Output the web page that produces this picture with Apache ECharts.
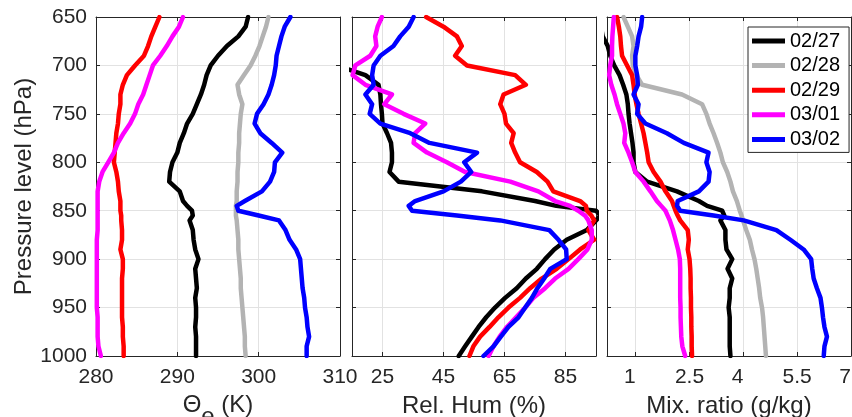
<!DOCTYPE html>
<html>
<head>
<meta charset="utf-8">
<script src="https://cdn.jsdelivr.net/npm/echarts@6/dist/echarts.min.js"></script>
<style>
  html, body { margin: 0; padding: 0; background: #fff; }
  #main { width: 852px; height: 417px; }
</style>
</head>
<body>
<div id="main"></div>
<script>
// pressure levels (hPa), shared by every profile
const levels = [650, 660, 670, 680, 690, 700, 710, 720, 730, 740, 750, 760, 770, 780, 790, 800, 810, 820, 830, 840,
  845, 850, 855, 860, 870, 880, 890, 900, 910, 920, 930, 940, 950, 960, 970, 980, 990, 1000];

const dates = ['02/27', '02/28', '02/29', '03/01', '03/02'];
const colors = ['#000000', '#b3b3b3', '#ff0000', '#ff00ff', '#0000ff'];

// equivalent potential temperature (K)
const thetaE0227 = [298.7, 298.4, 297.5, 296.1, 295.0, 294.1, 293.6, 293.3, 292.9, 292.4, 291.9, 291.2, 290.8, 290.3, 290.0, 289.4, 289.1, 289.0, 290.3, 290.7,
  291.2, 291.8, 291.9, 291.5, 291.9, 292.0, 292.2, 292.6, 292.2, 292.3, 292.4, 292.2, 292.3, 292.3, 292.2, 292.3, 292.3, 292.3];
const thetaE0228 = [301.2, 300.9, 300.5, 300.1, 299.6, 299.0, 298.2, 297.4, 297.6, 298.0, 297.8, 297.7, 297.6, 297.6, 297.5, 297.5, 297.4, 297.4, 297.3, 297.3,
  297.2, 297.2, 297.2, 297.3, 297.4, 297.5, 297.5, 297.6, 297.7, 297.8, 297.8, 297.9, 298.0, 298.1, 298.2, 298.3, 298.3, 298.4];
const thetaE0229 = [287.8, 287.3, 286.8, 286.4, 285.9, 284.8, 283.8, 283.3, 283.0, 283.0, 282.8, 282.7, 282.5, 282.4, 282.3, 282.2, 282.5, 282.7, 282.8, 283.0,
  283.0, 283.0, 283.1, 283.1, 283.2, 283.2, 283.0, 283.3, 283.3, 283.2, 283.2, 283.2, 283.2, 283.2, 283.3, 283.3, 283.4, 283.4];
const thetaE0301 = [290.7, 290.2, 289.4, 288.7, 287.9, 287.0, 286.6, 286.2, 285.8, 285.2, 284.8, 284.2, 283.4, 282.7, 282.2, 281.5, 280.8, 280.4, 280.2, 280.2,
  280.2, 280.2, 280.2, 280.2, 280.2, 280.1, 280.1, 280.1, 280.1, 280.1, 280.1, 280.1, 280.1, 280.2, 280.2, 280.2, 280.3, 280.6];
const thetaE0302 = [303.9, 303.2, 302.8, 302.5, 302.2, 302.1, 301.9, 301.6, 301.2, 300.6, 299.8, 299.5, 300.2, 301.6, 302.9, 302.0, 301.9, 301.4, 300.4, 298.3,
  297.3, 297.5, 300.0, 302.5, 303.3, 303.8, 304.6, 305.1, 305.2, 305.3, 305.4, 305.6, 305.7, 305.9, 306.0, 306.2, 305.9, 305.9];

// relative humidity (%), no 02/28 profile in the figure
const rh0227 = [8, 8, 9, 9, 10, 10, 19.4, 23.7, 24.3, 24.5, 24.8, 25.0, 26.5, 27.8, 28.1, 28.1, 27.3, 30.3, 57.6, 75.0,
  82.0, 95.0, 96.5, 95.0, 92.0, 85.4, 81.3, 78.3, 75.6, 72.0, 69.0, 65.2, 61.9, 59.0, 56.5, 54.3, 52.1, 50.0];
const rh0229 = [39.3, 45.0, 49.4, 51.0, 48.8, 52.7, 68.5, 72.0, 64.7, 63.6, 65.0, 65.5, 68.0, 67.2, 68.5, 70.1, 75.6, 79.1, 81.0, 89.8,
  91.7, 92.0, 93.5, 94.4, 92.5, 94.4, 89.8, 86.0, 82.1, 77.2, 73.4, 70.1, 66.3, 63.0, 60.1, 57.0, 54.8, 53.5];
const rh0301 = [24.8, 23.4, 22.6, 23.0, 21.0, 16.1, 15.2, 19.4, 28.1, 25.6, 31.9, 39.0, 35.7, 35.2, 39.6, 46.1, 52.1, 66.9, 76.1, 81.6,
  86.5, 89.2, 91.4, 92.5, 93.6, 93.6, 92.2, 89.2, 86.0, 81.6, 78.3, 74.5, 71.8, 68.8, 65.8, 63.4, 61.4, 59.8];
const rh0302 = [35.2, 33.6, 30.8, 28.6, 24.3, 22.1, 21.6, 22.1, 19.4, 21.6, 20.8, 24.3, 34.1, 40.4, 56.0, 51.8, 54.1, 50.7, 45.0, 35.7,
  33.6, 34.7, 49.4, 63.6, 79.7, 82.7, 85.2, 85.4, 80.0, 78.0, 75.8, 74.0, 71.8, 69.6, 66.3, 63.8, 61.4, 58.1];

// mixing ratio (g/kg)
const mix0227 = [0.0, 0.03, 0.08, 0.22, 0.29, 0.40, 0.55, 0.65, 0.74, 0.78, 0.80, 0.83, 0.87, 0.91, 0.94, 0.94, 0.99, 1.32, 2.15, 2.76,
  2.99, 3.41, 3.47, 3.36, 3.50, 3.50, 3.53, 3.69, 3.56, 3.69, 3.62, 3.62, 3.59, 3.62, 3.62, 3.62, 3.62, 3.64];
const mix0228 = [0.66, 0.78, 0.90, 0.94, 0.90, 0.92, 1.02, 1.18, 2.29, 2.85, 2.97, 3.06, 3.17, 3.27, 3.36, 3.43, 3.55, 3.64, 3.71, 3.82,
  3.86, 3.90, 3.95, 3.99, 4.08, 4.18, 4.24, 4.31, 4.36, 4.40, 4.44, 4.47, 4.52, 4.55, 4.57, 4.59, 4.61, 4.63];
const mix0229 = [0.48, 0.53, 0.57, 0.59, 0.62, 0.76, 0.90, 0.94, 0.97, 1.02, 1.08, 1.15, 1.22, 1.27, 1.32, 1.36, 1.50, 1.69, 1.83, 2.01,
  2.06, 2.11, 2.17, 2.24, 2.45, 2.48, 2.45, 2.50, 2.52, 2.53, 2.53, 2.54, 2.54, 2.55, 2.55, 2.56, 2.56, 2.57];
const mix0301 = [0.39, 0.37, 0.35, 0.34, 0.34, 0.29, 0.26, 0.32, 0.41, 0.48, 0.57, 0.66, 0.71, 0.68, 0.80, 0.90, 0.99, 1.22, 1.41, 1.59,
  1.71, 1.83, 1.89, 1.95, 2.04, 2.11, 2.18, 2.23, 2.24, 2.24, 2.24, 2.24, 2.25, 2.25, 2.26, 2.27, 2.30, 2.38];
const mix0302 = [1.18, 1.15, 1.08, 1.04, 0.99, 0.99, 1.04, 1.06, 0.94, 1.08, 1.04, 1.27, 1.87, 2.34, 3.03, 2.97, 3.06, 3.03, 2.76, 2.17,
  2.15, 2.24, 3.17, 4.01, 4.92, 5.31, 5.68, 5.89, 5.92, 5.96, 6.05, 6.15, 6.19, 6.22, 6.26, 6.33, 6.26, 6.24];

// tick labels
const rhTicks = [25, 45, 65, 85];
const mixTicks = [1, 2.5, 4, 5.5, 7];

const ink = '#262626';
const gridLine = '#e2e2e2';
const font = 'Liberation Sans, Arial, Helvetica, sans-serif';

const chart = echarts.init(document.getElementById('main'), null, { renderer: 'canvas' });

const gridBoxes = [96, 352, 607].map((left) => ({
  left, top: 17, width: 244, height: 339, containLabel: false, outerBoundsMode: 'none',
}));

const tickStyle = { show: true, inside: true, length: 4, lineStyle: { color: ink, width: 1 } };
const lineStyle = { show: true, onZero: false, lineStyle: { color: ink, width: 1 } };

function bottomAxis(gridIndex, min, max, extra) {
  return Object.assign({
    type: 'value', gridIndex, position: 'bottom', min, max,
    axisLine: lineStyle,
    axisTick: tickStyle,
    splitLine: { show: true, lineStyle: { color: gridLine, width: 1 } },
    axisLabel: { show: true, color: ink, fontSize: 21, fontFamily: font, margin: 11, formatter: (v) => String(v) },
    nameLocation: 'middle',
  }, extra);
}

function topAxis(gridIndex, min, max, extra) {
  return Object.assign({
    type: 'value', gridIndex, position: 'top', min, max,
    axisLine: lineStyle,
    axisTick: tickStyle,
    axisLabel: { show: false },
    splitLine: { show: false },
  }, extra);
}

function pressureAxis(gridIndex, position, showLabels) {
  const axis = {
    type: 'value', gridIndex, position, inverse: true, min: 650, max: 1000, interval: 50,
    axisLine: lineStyle,
    axisTick: tickStyle,
    splitLine: { show: position === 'left', lineStyle: { color: gridLine, width: 1 } },
    axisLabel: { show: showLabels, color: ink, fontSize: 21, fontFamily: font, margin: 9, formatter: (v) => String(v) },
  };
  if (showLabels) {
    axis.name = 'Pressure level (hPa)';
    axis.nameLocation = 'middle';
    axis.nameGap = 54;
    axis.nameTextStyle = { color: ink, fontSize: 24, lineHeight: 24, fontFamily: font };
  }
  return axis;
}

const titleStyle = { color: ink, fontSize: 24, lineHeight: 24, fontFamily: font };

const xAxes = [
  bottomAxis(0, 280, 310, {
    interval: 10,
    name: '{m|Θ}{s|e}{m| (K)}',
    nameGap: 29,
    nameTextStyle: {
      rich: {
        m: Object.assign({ verticalAlign: 'top' }, titleStyle),
        s: Object.assign({ verticalAlign: 'top', padding: [12, 0, 0, 0] }, titleStyle),
      },
    },
  }),
  topAxis(0, 280, 310, { interval: 10 }),
  bottomAxis(1, 15, 95, {
    name: 'Rel. Hum (%)', nameGap: 38, nameTextStyle: titleStyle,
  }),
  topAxis(1, 15, 95, {}),
  bottomAxis(2, 0.2, 7, {
    name: 'Mix. ratio (g/kg)', nameGap: 38, nameTextStyle: titleStyle,
  }),
  topAxis(2, 0.2, 7, {}),
];
xAxes[2].axisTick = Object.assign({}, tickStyle, { customValues: rhTicks });
xAxes[2].axisLabel = Object.assign({}, xAxes[2].axisLabel, { customValues: rhTicks });
xAxes[3].axisTick = Object.assign({}, tickStyle, { customValues: rhTicks });
xAxes[4].axisTick = Object.assign({}, tickStyle, { customValues: mixTicks });
xAxes[4].axisLabel = Object.assign({}, xAxes[4].axisLabel, {
  customValues: mixTicks,
  // labels are equal-width strings in the original, so integers sit a bit left
  formatter: (v) => (Number.isInteger(v) ? v + '  ' : String(v)),
});
xAxes[5].axisTick = Object.assign({}, tickStyle, { customValues: mixTicks });

const yAxes = [
  pressureAxis(0, 'left', true), pressureAxis(0, 'right', false),
  pressureAxis(1, 'left', false), pressureAxis(1, 'right', false),
  pressureAxis(2, 'left', false), pressureAxis(2, 'right', false),
];

function profile(panel, dateIndex, values) {
  return {
    type: 'line',
    name: dates[dateIndex],
    xAxisIndex: panel * 2,
    yAxisIndex: panel * 2,
    data: levels.map((p, i) => [values[i], p]),
    showSymbol: false,
    symbol: 'none',
    clip: true,
    animation: false,
    itemStyle: { color: colors[dateIndex] },
    lineStyle: { color: colors[dateIndex], width: 4.5, cap: 'round', join: 'round' },
    emphasis: { disabled: true },
  };
}

const series = [
  profile(0, 0, thetaE0227), profile(0, 1, thetaE0228), profile(0, 2, thetaE0229),
  profile(0, 3, thetaE0301), profile(0, 4, thetaE0302),
  profile(1, 0, rh0227), profile(1, 2, rh0229), profile(1, 3, rh0301), profile(1, 4, rh0302),
  profile(2, 0, mix0227), profile(2, 1, mix0228), profile(2, 2, mix0229),
  profile(2, 3, mix0301), profile(2, 4, mix0302),
];

const option = {
  backgroundColor: '#ffffff',
  animation: false,
  grid: gridBoxes,
  xAxis: xAxes,
  yAxis: yAxes,
  legend: {
    data: dates,
    orient: 'vertical',
    left: 748,
    top: 27,
    padding: [4, 9, 3, 4],
    itemWidth: 33,
    itemHeight: 5,
    itemGap: 4.6,
    icon: 'rect',
    selectedMode: false,
    backgroundColor: '#ffffff',
    borderColor: ink,
    borderWidth: 1,
    borderRadius: 0,
    itemStyle: { borderWidth: 0 },
    textStyle: { color: '#000', fontSize: 20, lineHeight: 20, fontFamily: font },
  },
  series,
};

chart.setOption(option);
</script>
</body>
</html>
